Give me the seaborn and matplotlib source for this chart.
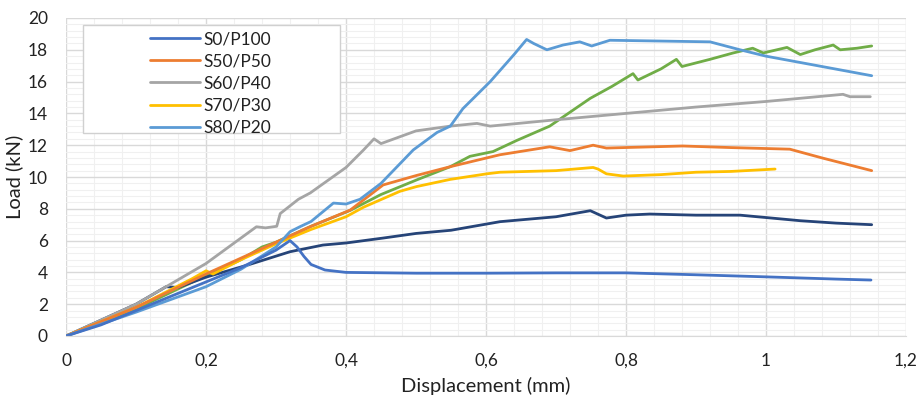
import matplotlib
matplotlib.use("Agg")
import matplotlib.pyplot as plt
import seaborn as sns
from matplotlib.patches import Rectangle
from matplotlib.ticker import MultipleLocator

# data (displacement in mm, load in kN)
s0_x = [0, 0.05, 0.1, 0.15, 0.2, 0.25, 0.3, 0.32, 0.33, 0.34, 0.35, 0.37, 0.4, 0.5, 0.6, 0.7, 0.8, 0.9, 1.0, 1.1, 1.15]
s0_y = [0, 0.7, 1.6, 2.5, 3.4, 4.3, 5.4, 6.0, 5.6, 5.0, 4.5, 4.15, 4.0, 3.95, 3.95, 3.97, 3.97, 3.85, 3.72, 3.58, 3.52]

s50_x = [0, 0.1, 0.2, 0.25, 0.3, 0.35, 0.406, 0.453, 0.501, 0.549, 0.62, 0.691, 0.72, 0.753, 0.772, 0.881, 0.95, 1.034, 1.08, 1.151]
s50_y = [0, 1.8, 3.9, 4.9, 5.9, 6.9, 7.92, 9.5, 10.1, 10.65, 11.4, 11.9, 11.66, 12.0, 11.82, 11.95, 11.85, 11.75, 11.2, 10.4]

s60_x = [0, 0.1, 0.143, 0.2, 0.272, 0.285, 0.301, 0.306, 0.332, 0.349, 0.4, 0.425, 0.44, 0.45, 0.5, 0.549, 0.587,
         0.606, 0.7, 0.8, 0.9, 1.0, 1.11, 1.12, 1.149]
s60_y = [0, 2.0, 3.1, 4.56, 6.87, 6.8, 6.9, 7.7, 8.6, 9.0, 10.6, 11.7, 12.4, 12.1, 12.9, 13.2, 13.37,
         13.2, 13.6, 14.0, 14.4, 14.75, 15.2, 15.05, 15.05]

s70_x = [0, 0.1, 0.18, 0.2, 0.21, 0.25, 0.3, 0.35, 0.4, 0.425, 0.477, 0.501, 0.549, 0.601, 0.62, 0.7, 0.753, 0.76,
         0.772, 0.796, 0.85, 0.9, 0.95, 1.013]
s70_y = [0, 1.8, 3.6, 4.1, 3.9, 4.8, 5.8, 6.7, 7.5, 8.1, 9.1, 9.4, 9.85, 10.2, 10.3, 10.4, 10.6, 10.5,
         10.2, 10.06, 10.15, 10.3, 10.35, 10.5]

s80_x = [0, 0.1, 0.2, 0.25, 0.3, 0.32, 0.334, 0.35, 0.382, 0.4, 0.42, 0.45, 0.496, 0.53, 0.549, 0.567, 0.606, 0.64,
         0.658, 0.668, 0.687, 0.71, 0.734, 0.751, 0.777, 0.85, 0.92, 0.963, 1.0, 1.151]
s80_y = [0, 1.5, 3.1, 4.2, 5.6, 6.56, 6.87, 7.2, 8.36, 8.3, 8.6, 9.6, 11.7, 12.8, 13.2, 14.3, 16.0, 17.7,
         18.65, 18.4, 18.0, 18.3, 18.5, 18.24, 18.6, 18.55, 18.5, 18.0, 17.6, 16.37]

# two more curves are drawn in the original but have no legend entry
green_x = [0, 0.1, 0.2, 0.25, 0.28, 0.3, 0.35, 0.406, 0.45, 0.5, 0.549, 0.577, 0.61, 0.644, 0.691, 0.749, 0.78,
           0.81, 0.817, 0.85, 0.872, 0.88, 0.92, 0.953, 0.981, 0.996, 1.03, 1.049, 1.07, 1.096, 1.106, 1.13, 1.151]
green_y = [0, 1.7, 3.8, 4.8, 5.6, 5.9, 6.9, 7.9, 8.9, 9.8, 10.65, 11.3, 11.6, 12.3, 13.2, 14.95, 15.7,
           16.5, 16.1, 16.8, 17.4, 16.95, 17.4, 17.8, 18.1, 17.8, 18.15, 17.7, 18.0, 18.3, 18.0, 18.1, 18.24]

navy_x = [0, 0.05, 0.1, 0.143, 0.16, 0.2, 0.26, 0.32, 0.367, 0.4, 0.453, 0.5, 0.55, 0.62, 0.7, 0.749, 0.772, 0.8,
          0.834, 0.9, 0.963, 1.0, 1.049, 1.1, 1.151]
navy_y = [0, 1.0, 2.0, 3.1, 3.05, 3.7, 4.47, 5.3, 5.72, 5.85, 6.16, 6.45, 6.65, 7.19, 7.5, 7.88, 7.42, 7.6,
          7.67, 7.6, 7.6, 7.45, 7.25, 7.1, 7.0]

x_ticks = [0, 0.2, 0.4, 0.6, 0.8, 1.0, 1.2]
x_tick_labels = ['0', '0,2', '0,4', '0,6', '0,8', '1', '1,2']
y_ticks = [0, 2, 4, 6, 8, 10, 12, 14, 16, 18, 20]

sns.set_style('white')
plt.rcParams['font.family'] = ['Lato', 'DejaVu Sans']

fig, ax = plt.subplots(figsize=(9.21, 4.0), dpi=100)
fig.subplots_adjust(left=0.0717, right=0.9837, top=0.955, bottom=0.16)

lw = 2.0
sns.lineplot(x=green_x, y=green_y, color='#70AD47', lw=lw, ax=ax, sort=False)
sns.lineplot(x=navy_x, y=navy_y, color='#264478', lw=lw, ax=ax, sort=False)
sns.lineplot(x=s60_x, y=s60_y, color='#A5A5A5', lw=lw, ax=ax, sort=False, label='S60/P40')
sns.lineplot(x=s70_x, y=s70_y, color='#FFC000', lw=lw, ax=ax, sort=False, label='S70/P30')
sns.lineplot(x=s50_x, y=s50_y, color='#ED7D31', lw=lw, ax=ax, sort=False, label='S50/P50')
sns.lineplot(x=s80_x, y=s80_y, color='#5B9BD5', lw=lw, ax=ax, sort=False, label='S80/P20')
sns.lineplot(x=s0_x, y=s0_y, color='#4472C4', lw=lw, ax=ax, sort=False, label='S0/P100')

ax.set_xlim(0, 1.2)
ax.set_ylim(0, 20)
ax.set_xticks(x_ticks)
ax.set_xticklabels(x_tick_labels)
ax.set_yticks(y_ticks)
ax.xaxis.set_minor_locator(MultipleLocator(0.04))
ax.yaxis.set_minor_locator(MultipleLocator(0.4))
ax.grid(which='major', color='#d9d9d9', lw=1.0)
ax.grid(which='minor', color='#f0f0f0', lw=0.8)
ax.set_axisbelow(True)
for sp in ax.spines.values():
    sp.set_visible(False)
ax.spines['bottom'].set_visible(True)
ax.spines['bottom'].set_color('#d9d9d9')
ax.tick_params(which='major', length=5, color='#d9d9d9', labelsize=12.5, labelcolor='#222222')
ax.tick_params(axis='x', pad=7)
ax.tick_params(axis='y', pad=8)
ax.tick_params(which='minor', length=0)

ax.set_xlabel('Displacement (mm)', fontsize=14.5, color='#222222')
ax.set_ylabel('Load (kN)', fontsize=14.5, color='#222222')
ax.xaxis.set_label_coords(0.5, -0.13)
ax.yaxis.set_label_coords(-0.051, 0.5)

# legend box like the original (white box, handles on its right half)
box = Rectangle((0.02, 0.638), 0.306, 0.34, transform=ax.transAxes, facecolor='white',
                edgecolor='#d0d0d0', lw=1.0, zorder=3)
ax.add_patch(box)
handles, labels = ax.get_legend_handles_labels()
order = ['S0/P100', 'S50/P50', 'S60/P40', 'S70/P30', 'S80/P20']
hmap = dict(zip(labels, handles))
leg = ax.legend([hmap[k] for k in order], order, loc='upper left', bbox_to_anchor=(0.1, 0.958),
                frameon=False, fontsize=12.5, handlelength=2.9, handletextpad=0.15,
                labelspacing=0.35, borderpad=0, borderaxespad=0)
leg.set_zorder(4)
for t in leg.get_texts():
    t.set_color('#222222')

fig.savefig('out.png', dpi=100)
